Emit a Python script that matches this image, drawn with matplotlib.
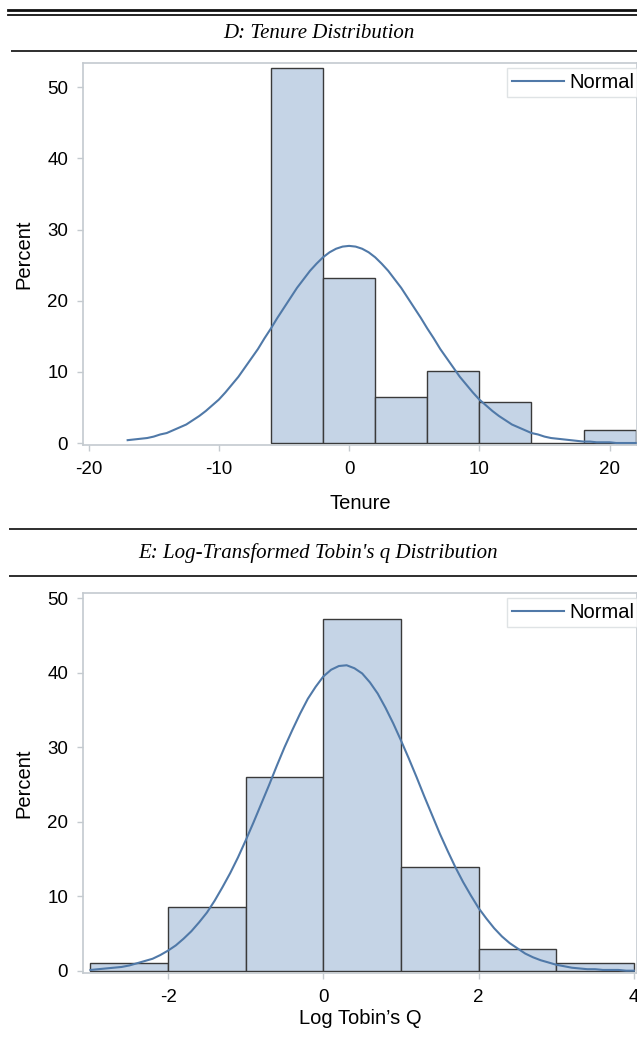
import numpy as np
import matplotlib
matplotlib.use("Agg")
import matplotlib.pyplot as plt
from matplotlib.lines import Line2D

# ---- data ----
tenure_edges = [-6, -2, 2, 6, 10, 14, 18, 22]
tenure_pct = [52.7, 23.2, 6.5, 10.1, 5.7, 0.0, 1.8]
# Normal curve, read every 0.5 from -17 to 22
tenure_curve_x = [-17 + 0.5 * i for i in range(79)]
tenure_curve_y = [0.4, 0.5, 0.6, 0.7, 0.9, 1.2, 1.4, 1.8, 2.2, 2.6, 3.2, 3.8,
                  4.5, 5.3, 6.1, 7.1, 8.2, 9.3, 10.6, 11.9, 13.2, 14.7, 16.1,
                  17.6, 19.0, 20.4, 21.8, 23.0, 24.2, 25.2, 26.1, 26.8, 27.3,
                  27.6, 27.7, 27.6, 27.3, 26.8, 26.1, 25.2, 24.2, 23.0, 21.8,
                  20.4, 19.0, 17.6, 16.1, 14.7, 13.2, 11.9, 10.6, 9.3, 8.2,
                  7.1, 6.1, 5.3, 4.5, 3.8, 3.2, 2.6, 2.2, 1.8, 1.4, 1.2, 0.9,
                  0.7, 0.6, 0.5, 0.4, 0.3, 0.2, 0.2, 0.1, 0.1, 0.1, 0.0, 0.0,
                  0.0, 0.0]
tenure_xticks = [-20, -10, 0, 10, 20]

tobin_edges = [-3, -2, -1, 0, 1, 2, 3, 4]
tobin_pct = [1.0, 8.5, 26.0, 47.2, 13.9, 2.9, 1.0]
# Normal curve, read every 0.1 from -3 to 4
tobin_curve_x = [round(-3 + 0.1 * i, 1) for i in range(71)]
tobin_curve_y = [0.1, 0.2, 0.3, 0.4, 0.5, 0.7, 1.0, 1.3, 1.6, 2.1, 2.7, 3.4,
                 4.3, 5.3, 6.5, 7.8, 9.4, 11.2, 13.1, 15.2, 17.5, 19.9, 22.4,
                 24.9, 27.5, 30.0, 32.3, 34.5, 36.5, 38.1, 39.5, 40.4, 40.9,
                 41.0, 40.6, 39.9, 38.7, 37.2, 35.3, 33.2, 30.9, 28.5, 26.0,
                 23.4, 20.9, 18.4, 16.1, 13.9, 11.9, 10.1, 8.4, 7.0, 5.7, 4.6,
                 3.7, 3.0, 2.3, 1.8, 1.4, 1.1, 0.8, 0.6, 0.4, 0.3, 0.2, 0.2,
                 0.1, 0.1, 0.1, 0.0, 0.0]
tobin_xticks = [-2, 0, 2, 4]

yticks = [0, 10, 20, 30, 40, 50]

W, H = 637, 1053
BAR_FILL = "#c5d4e6"
BAR_EDGE = "#3a3a3a"
CURVE = "#5079a8"
AXIS_GREY = "#c4cacf"
SERIF = ["Liberation Serif", "DejaVu Serif"]

plt.rcParams["font.family"] = ["Liberation Sans", "DejaVu Sans"]

fig = plt.figure(figsize=(W / 100, H / 100), dpi=100)


def px_axes(left, top, right, bottom):
    return fig.add_axes([left / W, 1 - bottom / H, (right - left) / W, (bottom - top) / H])


def hline(y, x0=10, x1=W, lw=1.44, color="#333333"):
    fig.add_artist(Line2D([x0 / W, x1 / W], [1 - y / H, 1 - y / H],
                          transform=fig.transFigure, color=color, lw=lw))


def panel(ax, edges, pct, cx, cy, xlim, ylim, xticks):
    widths = np.diff(edges)
    ax.bar(edges[:-1], pct, width=widths, align="edge", color=BAR_FILL,
           edgecolor=BAR_EDGE, linewidth=1.0, zorder=2)
    ax.plot(cx, cy, color=CURVE, lw=1.5, zorder=3, label="Normal")
    ax.set_xlim(*xlim)
    ax.set_ylim(*ylim)
    ax.set_xticks(xticks)
    ax.set_xticklabels([str(t) for t in xticks])
    ax.set_yticks(yticks)
    for s in ax.spines.values():
        s.set_color(AXIS_GREY)
        s.set_linewidth(1.2)
    ax.tick_params(axis="both", colors=AXIS_GREY, labelcolor="black",
                   labelsize=13.5, length=4.5, width=1.0)
    ax.tick_params(axis="x", pad=7)
    ax.tick_params(axis="y", pad=6)
    leg = ax.legend(loc="upper right", bbox_to_anchor=(1.004, 0.988),
                    frameon=True, fancybox=False, fontsize=14.5,
                    handlelength=2.6, handletextpad=0.25, borderpad=0.25,
                    borderaxespad=0.0)
    leg.get_frame().set_edgecolor("#d8dcdf")
    leg.get_frame().set_linewidth(1.0)


# top decoration
hline(10.3, x0=8, lw=2.0, color="#111111")
hline(14.6, x0=8, lw=1.3, color="#111111")
fig.text(0.5, 1 - 33.5 / H, "D: Tenure Distribution", ha="center", va="center",
         family=SERIF, style="italic", fontsize=15)
hline(51, x0=12)

ax1 = px_axes(82.7, 63, W, 445)
panel(ax1, tenure_edges, tenure_pct, tenure_curve_x, tenure_curve_y,
      (-20.45, 22.1), (-0.28, 53.4), tenure_xticks)
fig.text(360 / W, 1 - 503 / H, "Tenure", ha="center", va="center", fontsize=14.5)
fig.text(24 / W, 1 - 254 / H, "Percent", ha="center", va="center",
         rotation=90, fontsize=14.5)

hline(529)
fig.text(0.5, 1 - 553 / H, "E: Log-Transformed Tobin's q Distribution",
         ha="center", va="center", family=SERIF, style="italic", fontsize=15)
hline(575.7)

ax2 = px_axes(82.7, 593.3, W, 972.7)
panel(ax2, tobin_edges, tobin_pct, tobin_curve_x, tobin_curve_y,
      (-3.1, 4.04), (-0.27, 50.66), tobin_xticks)
fig.text(360 / W, 1 - 1019 / H, "Log Tobin\u2019s Q", ha="center", va="center",
         fontsize=14.5)
fig.text(24 / W, 1 - 783 / H, "Percent", ha="center", va="center",
         rotation=90, fontsize=14.5)

fig.savefig("out.png", dpi=100)
